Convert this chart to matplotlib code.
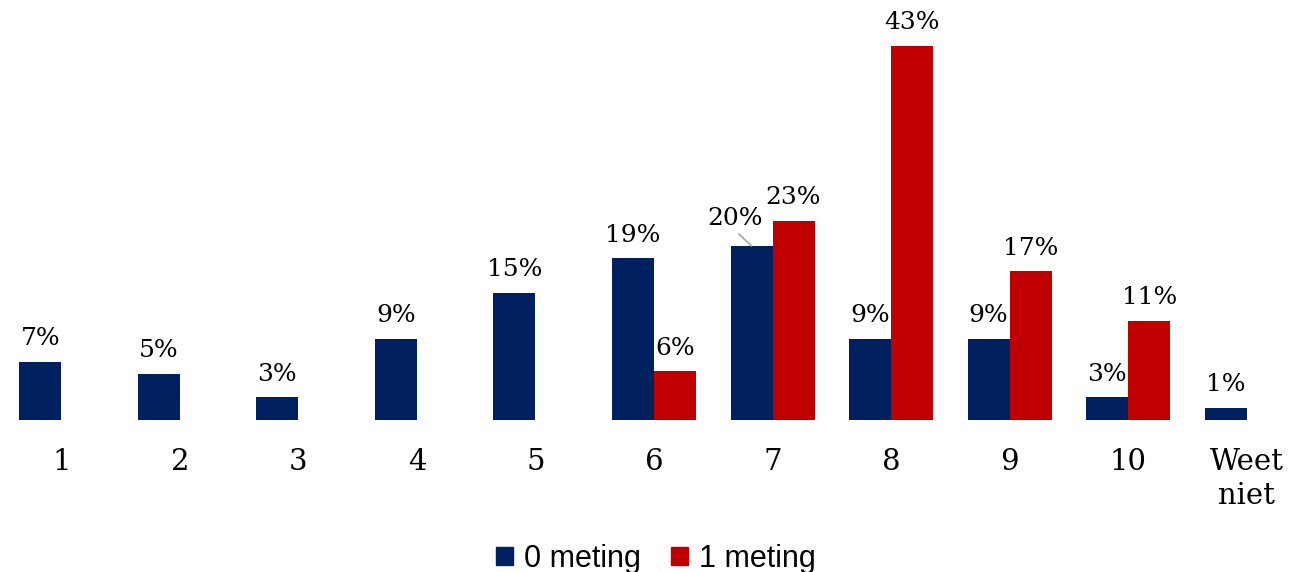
import matplotlib.pyplot as plt
import numpy as np

# survey scores, share of respondents (%)
categories = ['1', '2', '3', '4', '5', '6', '7', '8', '9', '10', 'Weet\nniet']
meting0 = [6.7, 5.3, 2.6, 9.3, 14.6, 18.6, 20.0, 9.3, 9.3, 2.6, 1.4]
meting1 = [None, None, None, None, None, 5.6, 22.9, 43.0, 17.1, 11.4, None]

blue_clr = '#002060'
red_clr = '#C00000'

fig = plt.figure(figsize=(13.09, 5.72), dpi=100)
W, H = 1309, 572
# plot area in pixels: x 2..1306, baseline at y=420
ax = fig.add_axes([2 / W, (H - 420) / H, 1304 / W, 420 / H])

x = np.arange(len(categories))
w = 0.354

for i, v in enumerate(meting0):
    ax.bar(x[i] - w / 2, v, w, color=blue_clr)
for i, v in enumerate(meting1):
    if v is not None:
        ax.bar(x[i] + w / 2, v, w, color=red_clr)

lab_font = dict(family='DejaVu Serif', size=18)

for i, v in enumerate(meting0):
    if categories[i] == '7':
        # label moved aside with a leader line
        ax.annotate('%d%%' % round(v), xy=(x[i] - w / 2, v), xytext=(-12, 15),
                    textcoords='offset points', ha='center', va='baseline',
                    arrowprops=dict(arrowstyle='-', color='#A6A6A6', lw=1.2,
                                    relpos=(0.5, 0), shrinkA=1, shrinkB=0),
                    **lab_font)
    else:
        ax.annotate('%d%%' % round(v), xy=(x[i] - w / 2, v), xytext=(0, 12),
                    textcoords='offset points', ha='center', va='baseline',
                    **lab_font)
for i, v in enumerate(meting1):
    if v is not None:
        ax.annotate('%d%%' % round(v), xy=(x[i] + w / 2, v), xytext=(0, 12),
                    textcoords='offset points', ha='center', va='baseline',
                    **lab_font)

ax.set_xlim(-0.5, len(categories) - 0.5)
ax.set_ylim(0, 420 / 8.7)
ax.set_yticks([])
ax.set_xticks(x)
ax.set_xticklabels(categories, family='DejaVu Serif', size=21, linespacing=1.3)
ax.tick_params(axis='x', length=0, pad=20)
for s in ax.spines.values():
    s.set_visible(False)

# legend
h0 = plt.Rectangle((0, 0), 1, 1, color=blue_clr)
h1 = plt.Rectangle((0, 0), 1, 1, color=red_clr)
fig.legend((h0, h1), ('0 meting', '1 meting'), loc='center',
           bbox_to_anchor=(656 / W, (H - 559) / H), ncol=2, frameon=False,
           prop=dict(family='Liberation Sans', size=22),
           handlelength=0.55, handleheight=0.55, handletextpad=0.37,
           columnspacing=0.98, borderpad=0)

plt.savefig('out.png', dpi=100)
